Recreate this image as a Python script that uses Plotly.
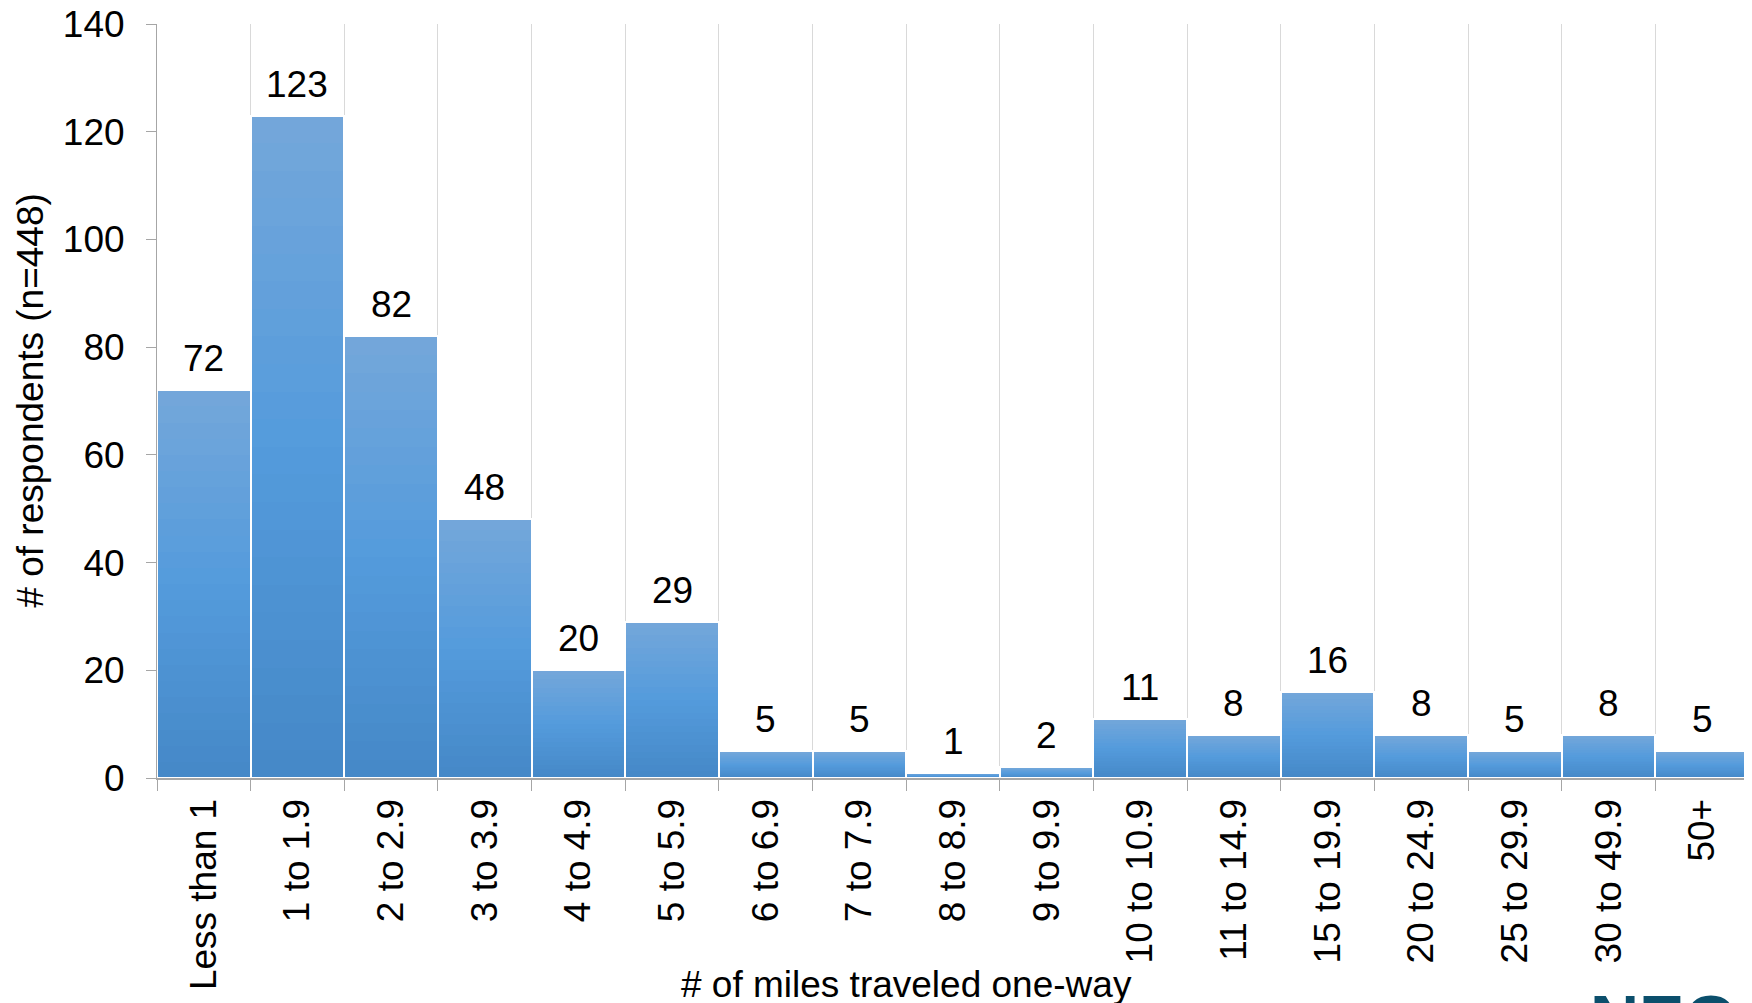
import plotly.graph_objects as go

# miles travelled one-way, grouped
categories = ["Less than 1", "1 to 1.9", "2 to 2.9", "3 to 3.9", "4 to 4.9",
              "5 to 5.9", "6 to 6.9", "7 to 7.9", "8 to 8.9", "9 to 9.9",
              "10 to 10.9", "11 to 14.9", "15 to 19.9", "20 to 24.9",
              "25 to 29.9", "30 to 49.9", "50+"]
respondents = [72, 123, 82, 48, 20, 29, 5, 5, 1, 2, 11, 8, 16, 8, 5, 8, 5]
y_ticks = [0, 20, 40, 60, 80, 100, 120, 140]

FONT = "Liberation Sans, Arial, sans-serif"
SIZE = 37


def mix(c1, c2, t):
    return "rgb(%d,%d,%d)" % tuple(round(a + (b - a) * t) for a, b in zip(c1, c2))


top_c = (116, 167, 218)
mid_c = (84, 155, 220)
bot_c = (69, 136, 199)

fig = go.Figure()

# vertical gradient inside each bar, built from stacked slices
n_seg = 24
for k in range(n_seg):
    t = (k + 0.5) / n_seg  # 0 = bottom, 1 = top
    if t < 0.5:
        col = mix(bot_c, mid_c, t / 0.5)
    else:
        col = mix(mid_c, top_c, (t - 0.5) / 0.5)
    fig.add_trace(go.Bar(
        x=categories,
        y=[v / n_seg * 1.02 for v in respondents],
        base=[v * k / n_seg for v in respondents],
        marker=dict(color=col, line=dict(width=0)),
        hoverinfo="skip", showlegend=False,
    ))

# white outline over the whole bars
fig.add_trace(go.Bar(
    x=categories, y=respondents,
    marker=dict(color="rgba(0,0,0,0)", line=dict(color="white", width=2)),
    showlegend=False,
))

for c, v in zip(categories, respondents):
    fig.add_annotation(x=c, y=v, text=str(v), showarrow=False,
                       yanchor="bottom", yshift=9,
                       font=dict(family=FONT, size=SIZE, color="black"))

fig.add_annotation(x=0.471, y=-0.244, xref="paper", yref="paper",
                   text="# of miles traveled one-way", showarrow=False,
                   xanchor="center", yanchor="top",
                   font=dict(family=FONT, size=SIZE, color="black"))

fig.add_annotation(x=-0.08, y=0.5, xref="paper", yref="paper",
                   text="# of respondents (n=448)", showarrow=False,
                   textangle=-90, xanchor="center", yanchor="middle",
                   font=dict(family=FONT, size=SIZE, color="black"))

# partial logo at the bottom right (cut by the page edge, as in the source)
fig.add_annotation(x=0.899, y=-0.266, xref="paper", yref="paper",
                   text="<b>NEO</b>", showarrow=False,
                   xanchor="left", yanchor="top",
                   font=dict(family=FONT, size=68, color="#0b4f6c"))

# the page body adds an 8px offset, so margins are trimmed to compensate
fig.update_layout(
    width=1752, height=1003,
    margin=dict(l=149, r=11, t=16, b=233),
    paper_bgcolor="white", plot_bgcolor="white",
    barmode="overlay", bargap=0,
    font=dict(family=FONT, size=SIZE, color="black"),
)
fig.update_xaxes(
    type="category", tickson="boundaries", automargin=False,
    showgrid=True, gridcolor="#d9d9d9", gridwidth=1,
    showline=True, linecolor="#a6a6a6", linewidth=2,
    ticks="outside", ticklen=11, tickcolor="#a6a6a6", tickwidth=1,
    tickangle=-90, ticklabelstandoff=4,
    tickfont=dict(family=FONT, size=SIZE, color="black"),
)
fig.update_yaxes(
    range=[0, 140], tickvals=y_ticks, automargin=False,
    ticklabeloverflow="allow",
    showgrid=False, zeroline=False,
    showline=True, linecolor="#a6a6a6", linewidth=1,
    ticks="outside", ticklen=10, tickcolor="#a6a6a6",
    ticklabelstandoff=14,
    tickfont=dict(family=FONT, size=SIZE, color="black"),
)

fig.write_html("out.html")
